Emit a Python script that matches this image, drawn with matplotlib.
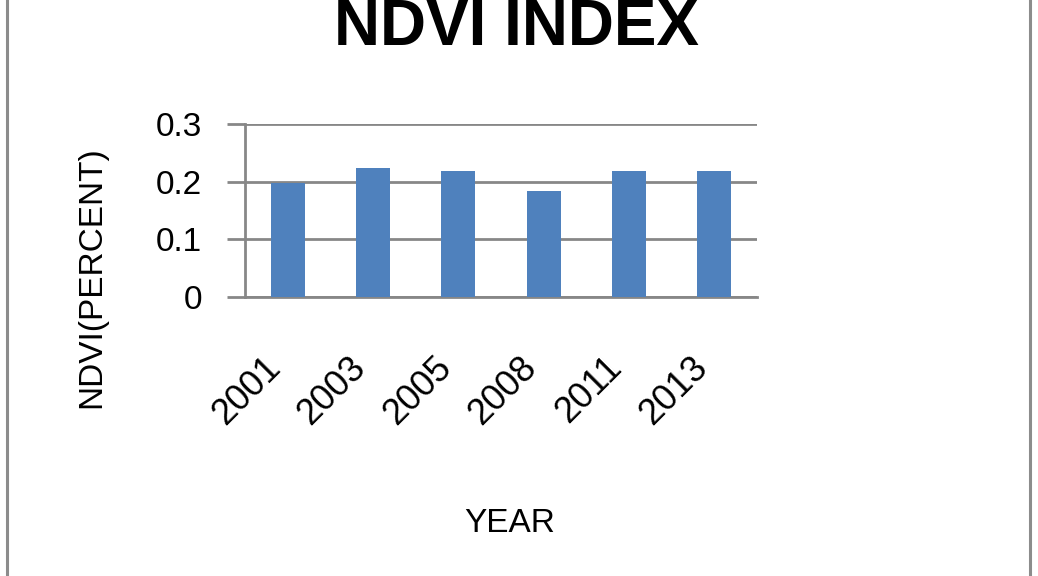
import matplotlib
matplotlib.use('Agg')
import matplotlib.pyplot as plt
from matplotlib.lines import Line2D

years = ['2001', '2003', '2005', '2008', '2011', '2013']
ndvi = [0.198, 0.223, 0.218, 0.184, 0.218, 0.218]
yticks = [0, 0.1, 0.2, 0.3]
ytick_labels = ['0', '0.1', '0.2', '0.3']

plt.rcParams['font.family'] = ['Liberation Sans', 'DejaVu Sans']

grey = '#878787'

fig = plt.figure(figsize=(10.38, 5.76), dpi=100)
ax = fig.add_axes([245 / 1038, 1 - 297 / 576, 512 / 1038, 173 / 576])

ax.bar(range(len(years)), ndvi, width=0.4, color='#4F81BD', zorder=3)
ax.set_xlim(-0.5, len(years) - 0.5)
ax.set_ylim(0, 0.3)
ax.set_yticks(yticks)
ax.set_yticklabels(ytick_labels, fontsize=24)
ax.set_xticks(range(len(years)))
ax.set_xticklabels(years, fontsize=26, rotation=45, ha='right', va='top')

ax.grid(axis='y', color=grey, linewidth=2, zorder=0)
ax.tick_params(axis='y', length=13, width=2, color=grey, pad=18)
ax.tick_params(axis='x', length=0, pad=38)
for s in ['top', 'right']:
    ax.spines[s].set_visible(False)
for s in ['left', 'bottom']:
    ax.spines[s].set_color(grey)
    ax.spines[s].set_linewidth(2)

# titel en as-titels
fig.text(517 / 1038, 1 - 45 / 576, 'NDVI INDEX', fontsize=46,
         fontweight='bold', ha='center', va='baseline')
fig.text(92 / 1038, 1 - 277 / 576, 'NDVI(PERCENT)', fontsize=24,
         rotation=90, ha='center', va='center')
fig.text(510 / 1038, 1 - 523 / 576, 'YEAR', fontsize=24,
         ha='center', va='center')

# rand om de figuur
for xb in [7 / 1038, 1030 / 1038]:
    fig.add_artist(Line2D([xb, xb], [0, 1], color='#8c8c8c', linewidth=2.2,
                          transform=fig.transFigure))

fig.savefig('out.png', dpi=100)
